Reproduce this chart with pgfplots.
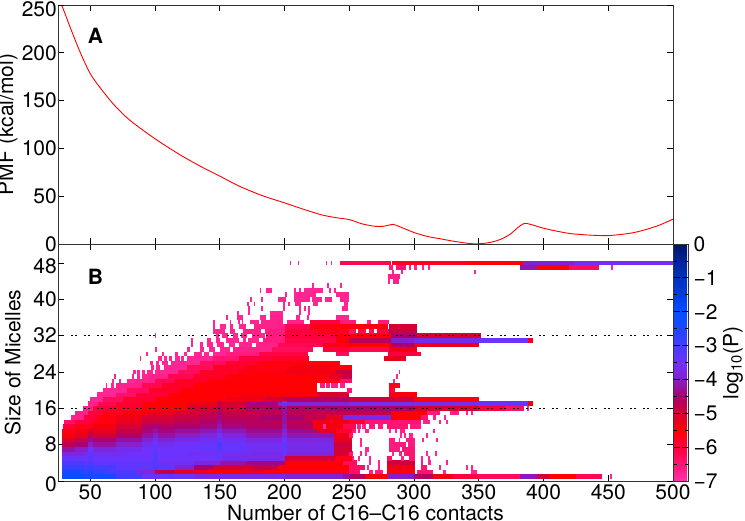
\documentclass[border=0pt]{standalone}
\usepackage{fontspec}
\setmainfont{TeX Gyre Heros}
\usepackage{pgfplots}
\pgfplotsset{compat=1.18}
\definecolor{axc}{gray}{0.2}
\newcommand{\lf}{\fontsize{21}{23}\selectfont}
\pgfplotsset{
 common/.style={scale only axis,width=615pt,xmin=25,xmax=500,
  xtick={50,100,...,500},tick align=inside,major tick length=6pt,
  axis line style={axc,line width=0.9pt},tick style={black,line width=0.7pt},
  tick label style={font=\lf},
  label style={font=\lf},
  /pgf/number format/assume math mode=true,
  yticklabel style={inner sep=1pt},
 },
}
\begin{document}
\begin{tikzpicture}[x=1pt,y=1pt]
\path[use as bounding box] (0,0) rectangle (745,521);
\begin{axis}[common,at={(58pt,277pt)},anchor=south west,height=239pt,ymin=0,ymax=250,
  ytick={0,50,...,200},extra y ticks={250},extra y tick style={yticklabel style={yshift=-4pt}},xticklabels={},
  ylabel={PMF (kcal/mol)},ylabel style={at={(axis description cs:-0.06,0.5)},anchor=south,rotate=0}]
\addplot[red,line width=0.9pt,smooth] coordinates {
(28,249)(29,246)(34.6,226)(42.3,200)(50,178)(57.8,163)(68,146)(78.3,132)(88.6,121)(100,110)
(109,102)(119,93.5)(134.7,81.5)(150,71)(165,60.5)(183,50.5)(200,43)(212,37.5)(220,34)(230,30)(240,27.5)(250,25.5)
(260,21)(270,18.5)(276,18.5)(280,19.5)(284,20.5)(290,17.5)(300,12)(310,8)(320,5.5)(330,3)(340,1)(346,0.2)(352,0.4)
(360,2)(368,5.5)(375,11)(380,17)(385,21.5)(390,20.5)(400,16.5)(410,13.5)(420,11)(430,9.8)(440,9)(450,8.8)(460,10)(470,12)(480,15.5)(490,20)(500,26)};
\node[font=\bfseries\lf] at (axis cs:54,217.5) {A};
\end{axis}
\begin{axis}[common,at={(58pt,40pt)},anchor=south west,height=237pt,ymin=0,ymax=52.2,
  ytick={8,16,...,40},extra y ticks={0,48},extra y tick style={yticklabel style={yshift=-3pt}},
  xlabel={Number of C16–C16 contacts},xlabel style={at={(axis description cs:0.5,0)},anchor=north,yshift=-20pt},
  ylabel={Size of Micelles},ylabel style={at={(axis description cs:-0.055,0.5)},anchor=south,rotate=0},
  colormap={mm}{rgb255(0pt)=(255,50,170);rgb255(1pt)=(255,20,115);rgb255(2pt)=(255,0,60);rgb255(3pt)=(255,0,5);
   rgb255(4pt)=(215,0,50);rgb255(5pt)=(170,0,110);rgb255(6pt)=(135,30,200);rgb255(7pt)=(110,50,255);
   rgb255(8pt)=(70,60,255);rgb255(9pt)=(30,70,255);rgb255(10pt)=(0,80,255);rgb255(11pt)=(0,60,225);
   rgb255(12pt)=(0,50,190);rgb255(13pt)=(0,35,150);rgb255(14pt)=(0,20,110)},
  point meta min=-7,point meta max=0,
  colorbar,
  colorbar shift/.style={xshift=0pt},
  colorbar style={width=15.5pt,
    at={(parent axis.north east)},anchor=north west,
    ytick={-7,-6,-5,-4,-3,-2,-1,0},
    yticklabels={−7,−6,−5,−4,−3,−2,−1,0},
    minor ytick={-6.5,-5.5,-4.5,-3.5,-2.5,-1.5,-0.5},
    tick align=inside,major tick length=7pt,minor tick length=4pt,
    yticklabel pos=right,
    axis line style={axc,line width=0.7pt},
    tick style={black,line width=0.7pt},
    yticklabel style={font=\lf,yshift=0pt,inner sep=1pt,xshift=4pt},
  },
]
\addplot[no markers,line width=4.7pt,point meta=\thisrow{c},
 quiver={u=\thisrow{d},v=0,colored=mapped color,every arrow/.append style={-,line width=4.7pt}}]
 table[x=x,y=y,row sep=\\]{
x y d c\\
28 1 17 -2.1\\45 1 25 -2.4\\70 1 20 -2.9\\90 1 40 -3.4\\130 1 70 -3.7\\200 1 45 -3.9\\245 1 5 -4.2\\250 1 12 -4.6\\262 1 18 -5.4\\280 1 20 -4\\300 1 15 -4.6\\315 1 15 -5.3\\330 1 20 -6\\350 1 32 -6.3\\382 1 13 -4.1\\395 1 10 -4.9\\405 1 20 -5.5\\425 1 20 -6.2\\451 1 2 -6.8\\
28 2 17 -2.5\\45 2 20 -2.8\\65 2 20 -3.1\\85 2 15 -3.8\\100 2 15 -4.7\\115 2 25 -5.2\\140 2 25 -5.5\\165 2 20 -5.3\\185 2 15 -5.5\\200 2 50 -5.7\\250 2 8 -6.4\\265 2 3 -6.7\\270 2 6 -6.6\\279 2 22 -5.6\\302 2 13 -6.5\\322 2 3 -6.8\\344 2 5 -6.8\\
28 3 17 -2.8\\45 3 25 -3\\70 3 45 -3.3\\115 3 15 -3.9\\130 3 15 -4.5\\145 3 30 -5\\175 3 20 -4.8\\195 3 55 -5.5\\250 3 12 -6.4\\264 3 1.5 -6.8\\272 3 1.5 -6.8\\279 3 22 -5.3\\305 3 5 -6.5\\319 3 1.5 -6.8\\340 3 1.5 -6.8\\344 3 1.5 -6.8\\
28 4 17 -3.1\\45 4 55 -3.3\\100 4 30 -3.6\\130 4 20 -3.8\\150 4 20 -4.2\\170 4 30 -4.4\\200 4 45 -5.5\\245 4 11 -6.3\\265 4 1.5 -6.8\\272 4 1.5 -6.8\\279 4 22 -4.9\\305 4 2 -6.6\\311 4 2 -6.8\\325 4 1.5 -6.8\\
28 5 17 -3.4\\45 5 105 -3.5\\150 5 50 -3.7\\200 5 40 -5\\240 5 12 -5.7\\252 5 2 -6.6\\257 5 1.5 -6.8\\265 5 1.5 -6.8\\279 5 4 -6.4\\290 5 2 -6.7\\296 5 5 -6.5\\305 5 2 -6.8\\311 5 1.5 -6.8\\
28 6 17 -3.8\\45 6 35 -3.6\\80 6 45 -3.5\\125 6 50 -3.6\\175 6 25 -3.7\\200 6 38 -3.8\\238 6 12 -5\\250 6 3 -6.5\\258 6 1.5 -6.8\\262 6 1.5 -6.8\\283 6 1.5 -6.8\\288 6 3 -6.7\\292 6 9 -6.5\\309 6 1.5 -6.8\\316 6 1.5 -6.8\\
28 7 17 -4.2\\45 7 35 -3.8\\80 7 50 -3.5\\130 7 40 -3.4\\170 7 30 -3.6\\200 7 38 -3.7\\238 7 14 -5\\262 7 3 -6.8\\281 7 8 -6.6\\291 7 10 -6.5\\
28 8 17 -4.7\\45 8 35 -4.2\\80 8 45 -3.6\\125 8 45 -3.4\\170 8 30 -3.6\\200 8 38 -3.7\\238 8 14 -4.9\\258 8 1.5 -6.8\\281 8 13 -6.6\\295 8 6 -6.6\\
28 9 17 -5.1\\45 9 35 -4.6\\80 9 45 -3.9\\125 9 45 -3.6\\170 9 68 -3.8\\238 9 14 -5.2\\258 9 1.5 -6.8\\281 9 4 -6.6\\288 9 1.5 -6.8\\294 9 7 -6.6\\306 9 1.5 -6.8\\317 9 1.5 -6.8\\
28 10 17 -5.4\\45 10 35 -4.9\\80 10 45 -4.2\\125 10 45 -3.8\\170 10 68 -4.1\\238 10 12 -5.3\\250 10 3 -6.5\\289 10 1.5 -6.8\\292 10 1.5 -6.8\\296 10 3 -6.7\\309 10 1.5 -6.8\\
28 11 17 -5.6\\45 11 35 -5.2\\80 11 45 -4.4\\125 11 45 -4.1\\170 11 55 -4.3\\225 11 15 -5.2\\240 11 12 -5.9\\252 11 3 -6.6\\257 11 1.5 -6.8\\262 11 3 -6.8\\281 11 1.5 -6.8\\285 11 1.5 -6.8\\289 11 4 -6.7\\315 11 1.5 -6.8\\
29 12 16 -6\\45 12 35 -5.4\\80 12 45 -4.6\\125 12 45 -4.4\\170 12 52 -4.6\\222 12 8 -5.4\\230 12 2 -7\\232 12 13 -5.4\\245 12 10 -6.2\\256 12 3 -6.7\\260 12 3 -6.7\\265 12 5 -6.6\\272 12 4 -6.6\\279 12 16 -6.5\\297 12 8 -6.6\\
30 13 15 -6.4\\45 13 35 -5.6\\80 13 45 -4.9\\125 13 65 -4.6\\190 13 32 -4.7\\222 13 28 -5.4\\250 13 12 -5.9\\262 13 10 -6.5\\272 13 33 -6.5\\307 13 5 -6.7\\319 13 1.5 -6.8\\325 13 1.5 -6.8\\
35 14 10 -6.7\\45 14 10 -6\\55 14 25 -5.6\\80 14 45 -5\\125 14 55 -4.7\\180 14 35 -4.5\\215 14 17 -4.8\\232 14 13 -5.2\\245 14 37 -3.7\\282 14 23 -5.5\\305 14 6 -6.5\\315 14 2 -6.7\\323 14 2 -6.8\\
38 15 10 -6.7\\48 15 12 -6\\60 15 25 -5.7\\85 15 40 -5.2\\125 15 55 -4.8\\180 15 45 -4.7\\225 15 15 -4.9\\240 15 42 -4.8\\282 15 28 -5.5\\310 15 10 -6.6\\328 15 7 -6.7\\340 15 1.5 -6.8\\344 15 1.5 -6.8\\
44 16 8 -6.7\\52 16 13 -6\\65 16 25 -5.8\\90 16 35 -5.5\\125 16 45 -5\\170 16 60 -4.6\\230 16 70 -4.5\\300 16 50 -5\\350 16 20 -6\\370 16 15 -6.4\\387 16 1.5 -6.8\\
48 17 8 -6.7\\56 17 14 -6.2\\70 17 20 -5.9\\90 17 35 -5.5\\125 17 25 -5.3\\150 17 20 -5\\170 17 25 -4.4\\195 17 55 -3.8\\250 17 100 -3.6\\350 17 38 -3.4\\388 17 4 -5.4\\
50 18 10 -6.8\\60 18 15 -6.3\\75 18 25 -5.9\\100 18 55 -5.5\\155 18 30 -5.3\\185 18 15 -5\\200 18 50 -4.6\\250 18 50 -4.9\\300 18 50 -5.5\\
55 19 15 -6.8\\70 19 15 -6.4\\85 19 25 -6\\110 19 55 -5.5\\165 19 60 -5.4\\225 19 25 -5\\281 19 21 -5.4\\
60 20 18 -6.8\\78 20 17 -6.3\\95 20 25 -5.8\\120 20 105 -5.5\\248 20 4 -6.5\\281 20 4 -6\\
70 21 20 -6.7\\90 21 15 -6.2\\105 21 25 -5.8\\130 21 95 -5.5\\227 21 4 -6.6\\232 21 3 -6.6\\236 21 5 -6.7\\243 21 4 -6.7\\281 21 8 -5.7\\
85 22 15 -6.7\\100 22 15 -6.2\\115 22 25 -5.8\\140 22 85 -5.5\\225 22 18 -5.7\\243 22 9 -6.4\\284 22 1.5 -6.8\\
95 23 15 -6.7\\110 23 20 -6.2\\130 23 25 -5.8\\155 23 80 -5.5\\235 23 10 -5.2\\245 23 7 -4.8\\286 23 1.5 -6.8\\
100 24 18 -6.8\\118 24 17 -6.3\\135 24 30 -5.8\\165 24 35 -5.6\\200 24 40 -5.3\\240 24 12 -4.8\\288 24 1.5 -6.8\\
107 25 18 -6.8\\125 25 20 -6.3\\145 25 25 -5.8\\170 25 35 -5.6\\205 25 30 -5.4\\235 25 17 -5.5\\
115 26 20 -6.8\\135 26 20 -6.3\\155 26 25 -5.9\\180 26 35 -5.6\\215 26 28 -5.6\\
125 27 20 -6.8\\145 27 20 -6.5\\165 27 25 -6\\190 27 29 -5.8\\277 27 8 -5.2\\285 27 9 -5.2\\
130 28 6 -6.8\\138 28 4 -6.8\\145 28 10 -6.8\\155 28 25 -6.6\\180 28 38 -6.1\\240 28 10 -6.3\\280 28 25 -6\\
135 29 3 -6.8\\142 29 4 -6.8\\150 29 8 -6.8\\160 29 30 -6.7\\190 29 32 -6.3\\230 29 20 -6\\250 29 31 -6.2\\281 29 21 -5.3\\
135 30 2 -6.8\\140 30 5 -6.8\\148 30 5 -6.8\\157 30 5 -6.8\\165 30 10 -6.8\\178 30 17 -6.7\\195 30 35 -6.2\\230 30 20 -5.6\\250 30 32 -5.5\\282 30 18 -4.5\\300 30 50 -5.2\\
140 31 3 -6.8\\147 31 3 -6.8\\155 31 10 -6.8\\168 31 2 -6.8\\172 31 8 -6.8\\183 31 17 -6.6\\200 31 40 -6.1\\240 31 10 -5.4\\250 31 32 -4.7\\282 31 18 -4\\300 31 50 -3.7\\350 31 38 -3.5\\388 31 4 -5.3\\
147 32 2 -6.8\\152 32 4 -6.8\\160 32 4 -6.8\\166 32 5 -6.8\\175 32 10 -6.8\\186 32 14 -6.6\\200 32 40 -6\\240 32 10 -5.4\\250 32 32 -5.5\\282 32 20 -4.5\\302 32 50 -5\\
146 33 8 -6.8\\158 33 4 -6.8\\168 33 14 -6.7\\185 33 15 -6.6\\200 33 25 -6\\225 33 25 -5.7\\250 33 5 -6.4\\257 33 6 -6.2\\265 33 4 -6.3\\271 33 10 -6\\281 33 21 -4.8\\
150 34 5 -6.8\\158 34 2 -6.8\\165 34 5 -6.8\\176 34 24 -6.7\\200 34 20 -6.2\\220 34 60 -5.6\\281 34 21 -5\\
145 35 1.5 -6.8\\158 35 1 -6.8\\164 35 1.5 -6.8\\167 35 1 -6.8\\173 35 7 -6.8\\182 35 17 -6.7\\202 35 13 -6.7\\220 35 23 -6\\243 35 12 -6.6\\264 35 3 -6.8\\272 35 9 -6.6\\
155 36 1.5 -6.8\\163 36 5 -6.8\\181 36 5 -6.8\\189 36 10 -6.7\\209 36 3 -6.8\\217 36 1.5 -6.8\\240 36 10 -6.8\\
163 37 2 -6.8\\172 37 1.5 -6.8\\189 37 10 -6.8\\211 37 1.5 -6.8\\218 37 1.5 -6.8\\
172 38 1.5 -6.8\\182 38 1.5 -6.8\\199 38 1.5 -6.8\\211 38 1.5 -6.8\\215 38 1.5 -6.8\\218 38 1.5 -6.8\\244 38 5 -6.8\\
171 39 1.5 -6.8\\176 39 1.5 -6.8\\199 39 1.5 -6.8\\203 39 1.5 -6.8\\208 39 5 -6.8\\222 39 4 -6.8\\246 39 3 -6.8\\
173 40 1.5 -6.8\\182 40 1.5 -6.8\\195 40 6 -6.8\\207 40 13 -6.8\\221 40 8 -6.8\\231 40 6 -6.8\\243 40 7 -6.8\\
200 41 1.5 -6.8\\207 41 17 -6.8\\240 41 10 -6.8\\
181 42 1 -6.8\\186 42 4 -6.8\\207 42 1.5 -6.8\\211 42 1.5 -6.8\\215 42 15 -6.8\\234 42 2 -6.8\\238 42 2 -6.8\\
221 43 1.5 -6.8\\233 43 1.5 -6.8\\243 43 1.5 -6.8\\
280 44 1.5 -6.8\\284 44 4 -6.7\\
280 45 9 -6.7\\
346 46 1.5 -6.8\\283 46 1.5 -6.8\\290 46 1.5 -6.8\\
281 47 3 -6.6\\286 47 8 -6.5\\296 47 2 -6.7\\300 47 2 -6.7\\306 47 1.5 -6.8\\311 47 1.5 -6.8\\382 47 13 -4.1\\395 47 25 -5.5\\420 47 23 -6.3\\452 47 1.5 -6.8\\
204 48 1 -6.8\\210 48 1 -6.8\\232 48 1 -6.8\\236 48 1 -6.8\\243 48 25 -6.2\\268.5 48 14 -6.2\\283 48 57 -5.8\\340 48 44 -5.5\\384 48 40 -3.9\\424 48 76 -3.6\\
38 7 14 -4\\70 7 20 -3.65\\115 7 20 -3.45\\
38 8 14 -4.45\\70 8 20 -3.9\\115 8 20 -3.5\\
38 9 14 -4.85\\70 9 20 -4.25\\115 9 20 -3.75\\
38 10 14 -5.15\\70 10 20 -4.55\\115 10 20 -4\\
38 11 14 -5.4\\70 11 20 -4.8\\115 11 20 -4.25\\
38 12 14 -5.7\\70 12 20 -5\\115 12 20 -4.5\\
38 13 14 -6\\70 13 20 -5.25\\115 13 20 -4.75\\
70 14 20 -5.3\\115 14 20 -4.85\\
75 15 20 -5.45\\115 15 20 -5\\
48 2 4 -2.6\\48 3 4 -2.8\\48 4 4 -3\\48 5 4 -3.2\\48 6 4 -3.3\\48 7 4 -3.5\\48 8 4 -3.9\\48 9 4 -4.3\\48 10 4 -4.7\\48 11 4 -5\\
98 3 4 -3.1\\98 4 4 -3.2\\98 5 4 -3.2\\98 6 4 -3.2\\98 7 4 -3.3\\98 8 4 -3.4\\98 9 4 -3.6\\98 10 4 -3.9\\98 11 4 -4.2\\98 12 4 -4.4\\
148 5 4 -3.4\\148 6 4 -3.4\\148 7 4 -3.2\\148 8 4 -3.1\\148 9 4 -3.3\\148 10 4 -3.5\\148 11 4 -3.8\\148 12 4 -4.1\\148 13 4 -4.3\\148 14 4 -4.4\\148 15 4 -4.5\\148 16 4 -4.7\\148 17 4 -4.8\\
198 6 4 -3.4\\198 7 4 -3.4\\198 8 4 -3.4\\198 9 4 -3.5\\198 10 4 -3.7\\198 11 4 -3.9\\198 12 4 -4.1\\198 13 4 -4.2\\198 14 4 -4.2\\198 15 4 -4.2\\198 16 4 -4.2\\198 17 4 -3.6\\
62 21 1 -6.8\\66 21 2 -6.8\\67 22 1.5 -6.8\\72 22 2 -6.8\\78 22 7 -6.8\\68 23 1.5 -6.8\\82 23 2 -6.8\\86 23 2 -6.8\\90 23 5 -6.8\\
83 24 2 -6.8\\86 24 2 -6.8\\90 24 2 -6.8\\94 24 4 -6.8\\97 25 2 -6.8\\101 25 3 -6.8\\96 26 2 -6.8\\101 26 2 -6.8\\105 26 5 -6.8\\112 26 3 -6.8\\
88 27 1 -6.8\\102 27 3 -6.8\\107 27 2 -6.8\\111 27 2 -6.8\\115 27 4 -6.8\\120 27 2 -6.8\\93 28 1.5 -6.8\\105 28 2 -6.8\\115 28 3 -6.8\\122 28 3 -6.8\\
100 29 1.5 -6.8\\125 29 2 -6.8\\128 30 1 -6.8\\128 31 1 -6.8\\100 32 1 -6.8\\145 33 1 -6.8\\145 34 1 -6.8\\
}; 
\addplot[black,line width=1.5pt,dash pattern=on 2pt off 2.4pt on 2pt off 6.6pt] coordinates {(25,16)(500,16)};
\addplot[black,line width=1.5pt,dash pattern=on 2pt off 2.4pt on 2pt off 6.6pt] coordinates {(25,32)(500,32)};
\node[font=\bfseries\lf] at (axis cs:54,45) {B};
\end{axis}
\node[rotate=90,font=\lf,inner sep=0pt] at (733,158) {log\textsubscript{10}(P)};
\end{tikzpicture}
\end{document}
